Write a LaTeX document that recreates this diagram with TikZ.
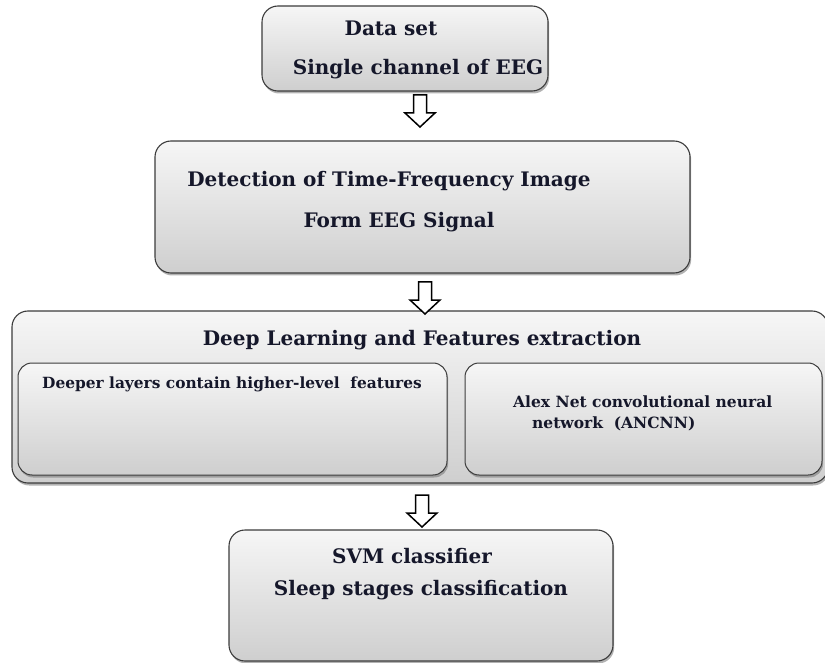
\documentclass[tikz,border=0pt]{standalone}
\usepackage{fontspec}
\setmainfont{DejaVu Serif}
\usetikzlibrary{shadows}
\definecolor{boxline}{HTML}{3C3C3C}
\definecolor{txt}{HTML}{15172A}
\tikzset{
  stage/.style={draw=boxline, line width=1.1pt, rounded corners=16pt,
    top color=gray!7, bottom color=gray!38,
    drop shadow={shadow xshift=1.2pt, shadow yshift=-2.5pt, fill=black!55, opacity=0.55},
    inner sep=0pt, outer sep=0pt},
  substage/.style={stage, rounded corners=14pt, line width=1pt},
  bigtext/.style={text=txt, font=\bfseries\fontsize{20}{23}\selectfont, inner sep=0pt},
  smalltext/.style={text=txt, font=\bfseries\fontsize{15.4}{18}\selectfont, inner sep=0pt},
  midtext/.style={text=txt, font=\bfseries\fontsize{15.5}{18}\selectfont, inner sep=0pt},
  downarrow/.pic={
    \draw[line width=1.5pt, fill=white, line join=miter]
      (-6.5,-16) -- (6.5,-16) -- (6.5,2) -- (15,2) -- (0,16) -- (-15,2) -- (-6.5,2) -- cycle;
  }
}
\begin{document}
\begin{tikzpicture}[x=1pt, y=-1pt]
\useasboundingbox (0,0) rectangle (825,663);

% stage boxes
\node[stage, minimum width=286pt, minimum height=85pt] (data) at (405,48.5) {};
\node[stage, minimum width=535pt, minimum height=132pt] (tfi) at (422.5,207) {};
\node[stage, minimum width=816pt, minimum height=172pt] (deep) at (420,397) {};
\node[substage, minimum width=429pt, minimum height=112pt] (deeper) at (232.5,419) {};
\node[substage, minimum width=357pt, minimum height=112pt] (alex) at (643.5,419) {};
\node[stage, minimum width=384pt, minimum height=131pt] (svm) at (421,595.5) {};

% texts
\node[bigtext, anchor=base] (t1) at (391,36) {Data set};
\node[bigtext, anchor=base] (t2) at (418,75) {Single channel of EEG};
\node[bigtext, anchor=base] (t3) at (389,187) {Detection of Time-Frequency Image};
\node[bigtext, anchor=base] (t4) at (399,228) {Form EEG Signal};
\node[bigtext, anchor=base] (t5) at (422,345) {Deep Learning and Features extraction};
\node[smalltext, anchor=base] (t6) at (232,388) {Deeper layers contain higher-level\ \ features};
\node[midtext, anchor=base west] (t7) at (513,407) {Alex Net convolutional neural};
\node[midtext, anchor=base west] (t8) at (532,428) {network\ \ (ANCNN)};
\node[bigtext, anchor=base] (t9) at (412,563) {SVM classifier};
\node[bigtext, anchor=base] (t10) at (421,595) {Sleep stages classification};

% flow arrows between stages
\coordinate (a1) at (420,111);
\coordinate (a2) at (425,298);
\coordinate (a3) at (422,511);
\pic at (a1) {downarrow};
\pic at (a2) {downarrow};
\pic at (a3) {downarrow};
\end{tikzpicture}
\end{document}
